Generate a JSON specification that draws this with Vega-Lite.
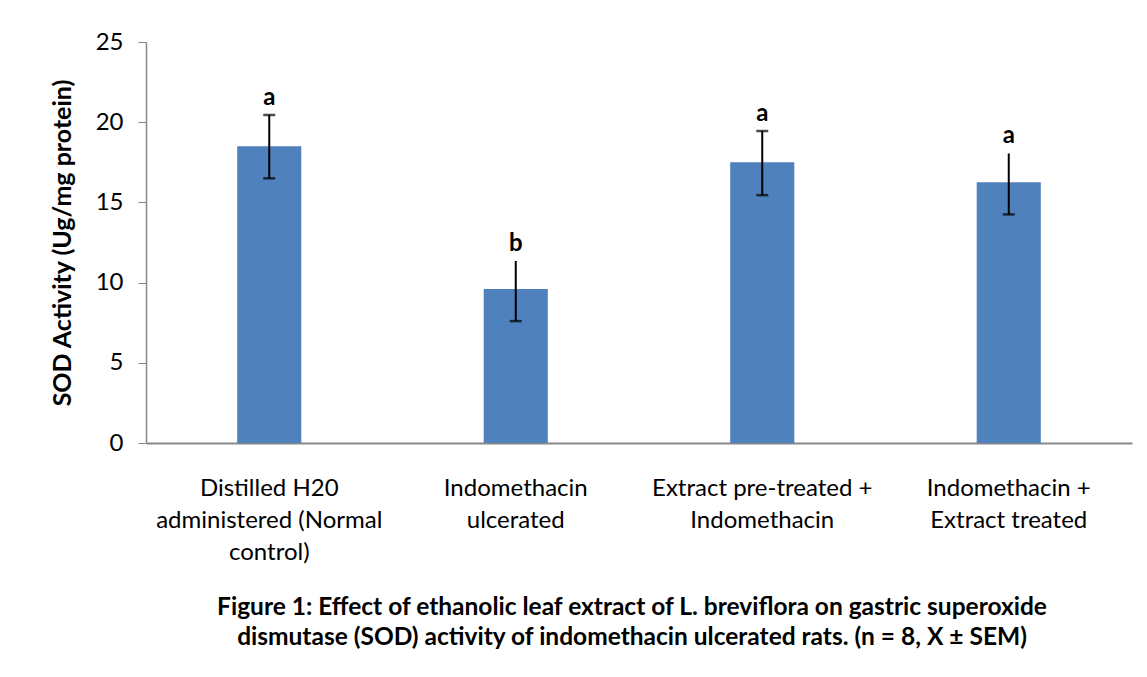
{
  "$schema": "https://vega.github.io/schema/vega-lite/v6.json",
  "autosize": {"type": "none"},
  "width": 986,
  "height": 401,
  "padding": {"left": 146, "top": 42, "right": 15, "bottom": 234},
  "background": "white",
  "config": {
    "view": {"stroke": null},
    "font": "Lato",
    "text": {"font": "Lato"}
  },
  "title": {
    "text": ["Figure 1: Effect of ethanolic leaf extract of L. breviflora on gastric superoxide", "dismutase (SOD) activity of indomethacin ulcerated rats. (n = 8, X ± SEM)"],
    "orient": "bottom",
    "anchor": "middle",
    "frame": "group",
    "font": "Lato",
    "fontSize": 24.5,
    "fontWeight": "bold",
    "lineHeight": 30,
    "color": "black",
    "dx": -7,
    "offset": 32
  },
  "data": {
    "values": [
      {"group": "Distilled H20|administered (Normal|control)", "sod": 18.5, "lo": 16.5, "hi": 20.45, "letter": "a", "cap": true},
      {"group": "Indomethacin|ulcerated", "sod": 9.6, "lo": 7.6, "hi": 11.35, "letter": "b", "cap": false},
      {"group": "Extract pre-treated +|Indomethacin", "sod": 17.5, "lo": 15.45, "hi": 19.45, "letter": "a", "cap": true},
      {"group": "Indomethacin +|Extract treated", "sod": 16.25, "lo": 14.25, "hi": 18.05, "letter": "a", "cap": false}
    ]
  },
  "encoding": {
    "x": {
      "field": "group",
      "type": "nominal",
      "sort": null,
      "scale": {"paddingInner": 0.74, "paddingOuter": 0.37},
      "axis": {
        "title": null,
        "labelAngle": 0,
        "labelExpr": "split(datum.label, '|')",
        "labelFont": "Lato",
        "labelFontSize": 24,
        "labelLineHeight": 32,
        "labelColor": "black",
        "labelPadding": 33,
        "labelLimit": 400,
        "ticks": false,
        "domainColor": "#888888",
        "domainWidth": 2,
        "grid": false
      }
    }
  },
  "layer": [
    {
      "mark": {"type": "bar", "color": "#4F81BD"},
      "encoding": {
        "y": {
          "field": "sod",
          "type": "quantitative",
          "scale": {"domain": [0, 25], "nice": false},
          "axis": {
            "title": "SOD Activity (Ug/mg protein)",
            "titleFont": "Lato",
            "titleFontSize": 25,
            "titleFontWeight": "bold",
            "titleColor": "black",
            "titlePadding": 20,
            "values": [0, 5, 10, 15, 20, 25],
            "labelFont": "Lato",
            "labelFontSize": 24,
            "labelColor": "black",
            "labelPadding": 15,
            "tickSize": 8,
            "tickColor": "#888888",
            "domainColor": "#888888",
            "domainWidth": 1.5,
            "grid": false
          }
        }
      }
    },
    {
      "mark": {"type": "rule", "color": "black", "strokeWidth": 2},
      "encoding": {
        "y": {"field": "lo", "type": "quantitative"},
        "y2": {"field": "hi"}
      }
    },
    {
      "mark": {"type": "tick", "color": "black", "size": 12, "thickness": 2.5, "orient": "horizontal"},
      "encoding": {
        "y": {"field": "lo", "type": "quantitative"}
      }
    },
    {
      "transform": [{"filter": "datum.cap"}],
      "mark": {"type": "tick", "color": "black", "size": 12, "thickness": 2.5, "orient": "horizontal"},
      "encoding": {
        "y": {"field": "hi", "type": "quantitative"}
      }
    },
    {
      "mark": {"type": "text", "font": "Lato", "fontSize": 24, "fontWeight": "bold", "color": "black", "baseline": "alphabetic", "dy": -10},
      "encoding": {
        "y": {"field": "hi", "type": "quantitative"},
        "text": {"field": "letter"}
      }
    }
  ]
}
